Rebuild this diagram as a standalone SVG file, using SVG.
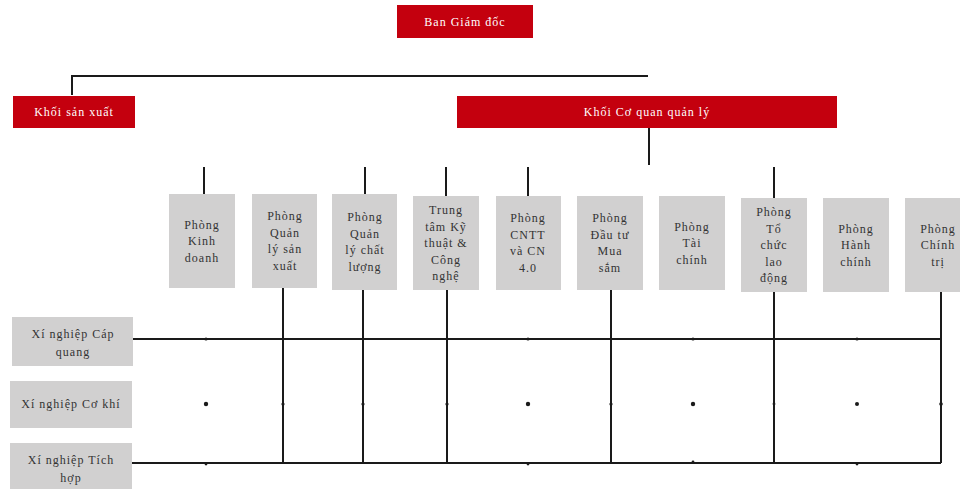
<svg xmlns="http://www.w3.org/2000/svg" width="960" height="489" viewBox="0 0 960 489">
<style>
.red{fill:#c4000e}
.gray{fill:#d1d0d0}
.wt{fill:#ffffff;font-family:"Liberation Serif","Times New Roman",serif;font-size:12px;letter-spacing:1px;text-anchor:middle}
.dt{fill:#333333;font-family:"Liberation Serif","Times New Roman",serif;font-size:12px;letter-spacing:1px;text-anchor:middle}
.ln{stroke:#1a1a1a;stroke-width:2;fill:none}
.dot{fill:#1a1a1a}
</style>
<rect width="960" height="489" fill="#ffffff"/>
<g id="connectors">
<path class="ln" d="M72 95V76H648"/>
<path class="ln" d="M649 128V165"/>
<path class="ln" d="M204 167V194M365 167V194M446 167V196M528 167V196M774 167V198"/>
<path class="ln" d="M133 339H941M130 463H941"/>
<path class="ln" d="M283 288V463M363 290V463M447 290V463M611 290V463M774 292V463M941 292V463"/>
<g class="dot">
<circle cx="206" cy="339" r="1.6"/><circle cx="528" cy="339" r="1.6"/><circle cx="693" cy="339" r="1.6"/><circle cx="857" cy="339" r="1.6"/>
<circle cx="206" cy="404" r="2.2"/><circle cx="528" cy="404" r="2.2"/><circle cx="693" cy="404" r="2.2"/><circle cx="857" cy="404" r="2"/>
<circle cx="283" cy="404" r="1.6"/><circle cx="363" cy="404" r="1.6"/><circle cx="447" cy="404" r="1.6"/><circle cx="611" cy="404" r="1.6"/><circle cx="774" cy="404" r="1.4"/><circle cx="941" cy="404" r="1.8"/>
<circle cx="206" cy="464" r="1.4"/><circle cx="528" cy="464" r="1.4"/><circle cx="693" cy="462" r="1.4"/><circle cx="857" cy="464" r="1.4"/>
</g>
</g>
<g id="ban-giam-doc"><rect class="red" x="397" y="5" width="136" height="33"/><text class="wt" x="465" y="26">Ban Giám đốc</text></g>
<g id="khoi-san-xuat"><rect class="red" x="13" y="96" width="122" height="32"/><text class="wt" x="74" y="116">Khối sản xuất</text></g>
<g id="khoi-co-quan"><rect class="red" x="457" y="96" width="380" height="32"/><text class="wt" x="647" y="116">Khối Cơ quan quản lý</text></g>
<g id="p-kinh-doanh"><rect class="gray" x="169" y="194" width="66" height="94"/><text class="dt" x="202" y="228.5">Phòng</text><text class="dt" x="202" y="245">Kinh</text><text class="dt" x="202" y="261.5">doanh</text></g>
<g id="p-quan-ly-sx"><rect class="gray" x="252" y="194" width="65" height="94"/><text class="dt" x="285" y="220">Phòng</text><text class="dt" x="285" y="236.5">Quản</text><text class="dt" x="285" y="253">lý sản</text><text class="dt" x="285" y="269.5">xuất</text></g>
<g id="p-quan-ly-cl"><rect class="gray" x="332" y="194" width="65" height="96"/><text class="dt" x="365" y="221">Phòng</text><text class="dt" x="365" y="237.5">Quản</text><text class="dt" x="365" y="254">lý chất</text><text class="dt" x="365" y="270.5">lượng</text></g>
<g id="tt-ky-thuat"><rect class="gray" x="413" y="196" width="66" height="94"/><text class="dt" x="446" y="214">Trung</text><text class="dt" x="446" y="230.5">tâm Kỹ</text><text class="dt" x="446" y="247">thuật &amp;</text><text class="dt" x="446" y="263.5">Công</text><text class="dt" x="446" y="280">nghệ</text></g>
<g id="p-cntt"><rect class="gray" x="496" y="196" width="65" height="94"/><text class="dt" x="528" y="222">Phòng</text><text class="dt" x="528" y="238.5">CNTT</text><text class="dt" x="528" y="255">và CN</text><text class="dt" x="528" y="271.5">4.0</text></g>
<g id="p-dau-tu"><rect class="gray" x="577" y="196" width="66" height="94"/><text class="dt" x="610" y="222">Phòng</text><text class="dt" x="610" y="238.5">Đầu tư</text><text class="dt" x="610" y="255">Mua</text><text class="dt" x="610" y="271.5">sắm</text></g>
<g id="p-tai-chinh"><rect class="gray" x="659" y="196" width="66" height="94"/><text class="dt" x="692" y="230.5">Phòng</text><text class="dt" x="692" y="247">Tài</text><text class="dt" x="692" y="263.5">chính</text></g>
<g id="p-to-chuc"><rect class="gray" x="741" y="198" width="66" height="94"/><text class="dt" x="774" y="216">Phòng</text><text class="dt" x="774" y="232.5">Tổ</text><text class="dt" x="774" y="249">chức</text><text class="dt" x="774" y="265.5">lao</text><text class="dt" x="774" y="282">động</text></g>
<g id="p-hanh-chinh"><rect class="gray" x="823" y="198" width="66" height="94"/><text class="dt" x="856" y="232.5">Phòng</text><text class="dt" x="856" y="249">Hành</text><text class="dt" x="856" y="265.5">chính</text></g>
<g id="p-chinh-tri"><rect class="gray" x="905" y="198" width="66" height="94"/><text class="dt" x="938" y="232.5">Phòng</text><text class="dt" x="938" y="249">Chính</text><text class="dt" x="938" y="265.5">trị</text></g>
<g id="xn-cap-quang"><rect class="gray" x="12" y="317" width="121" height="49"/><text class="dt" x="73" y="338">Xí nghiệp Cáp</text><text class="dt" x="73" y="356">quang</text></g>
<g id="xn-co-khi"><rect class="gray" x="10" y="381" width="122" height="47"/><text class="dt" x="71" y="408">Xí nghiệp Cơ khí</text></g>
<g id="xn-tich-hop"><rect class="gray" x="10" y="443" width="122" height="50"/><text class="dt" x="71" y="464">Xí nghiệp Tích</text><text class="dt" x="71" y="482">hợp</text></g>
</svg>
